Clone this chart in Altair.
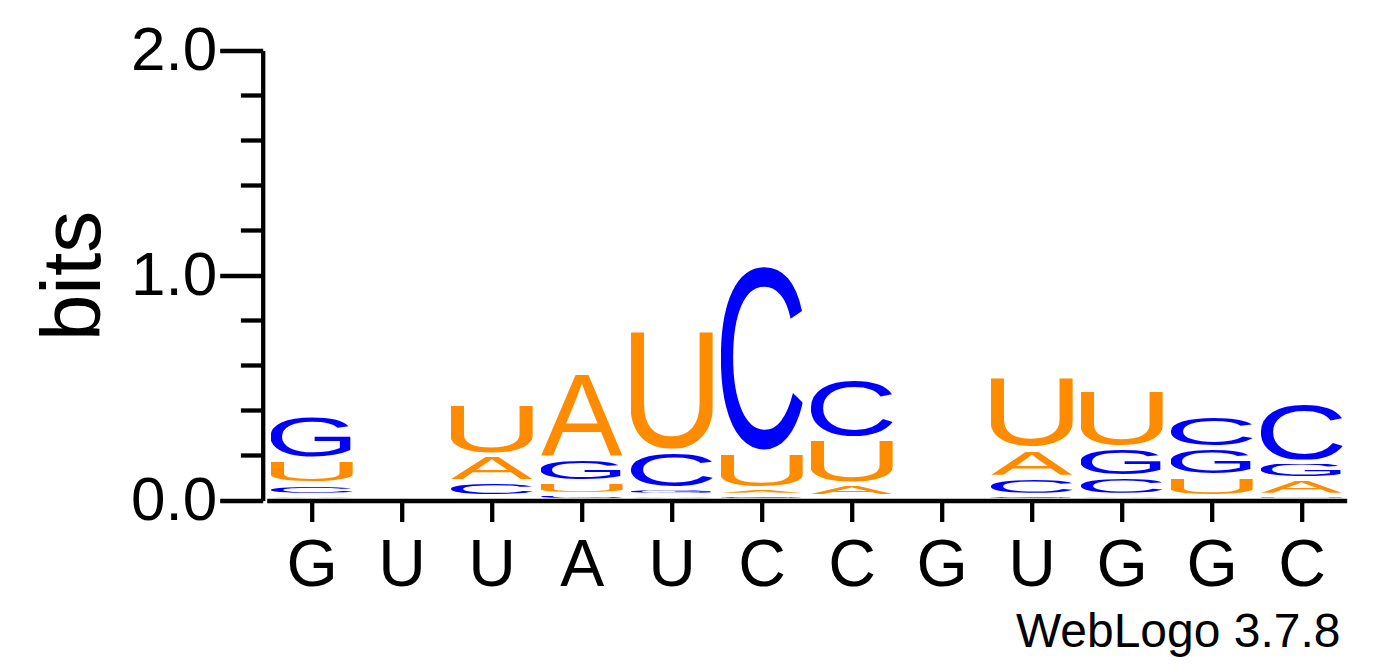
import json
from urllib.parse import quote

import pandas as pd
import altair as alt

# sequence logo data (bits per letter)
positions = list(range(1, 13))
consensus = ["G", "U", "U", "A", "U", "C", "C", "G", "U", "G", "G", "C"]
bits_A = [0.025, 0, 0.118, 0.392, 0.025, 0.03, 0.054, 0, 0.126, 0.025, 0.02, 0.073]
bits_C = [0.05, 0, 0.065, 0.03, 0.167, 0.858, 0.272, 0, 0.08, 0.082, 0.146, 0.272]
bits_G = [0.201, 0, 0.02, 0.102, 0.03, 0.025, 0.02, 0, 0.025, 0.13, 0.124, 0.075]
bits_U = [0.109, 0, 0.233, 0.055, 0.56, 0.16, 0.202, 0, 0.332, 0.262, 0.091, 0.025]
y_major = [0.0, 1.0, 2.0]
y_minor = [0.2, 0.4, 0.6, 0.8, 1.2, 1.4, 1.6, 1.8]
credit = "WebLogo 3.7.8"

FONT = "Liberation Sans"
ORANGE = "#FF8C00"
BLUE = "#0000FF"
colors = {"A": ORANGE, "U": ORANGE, "C": BLUE, "G": BLUE}
# ink boxes of the glyphs (font units * 100 / em): x0, x1, ybottom, ytop
ink = {"A": (-0.15, 66.85, 0.0, 71.6),
       "C": (4.98, 68.26, -1.22, 72.2),
       "G": (5.32, 72.22, -1.22, 72.2),
       "U": (7.86, 64.16, -1.22, 71.6)}


def glyph_url(letter):
    x0, x1, yb, yt = ink[letter]
    w, h = x1 - x0, yt - yb
    svg = (f'<svg xmlns="http://www.w3.org/2000/svg" width="{w:.2f}" height="{h:.2f}" '
           f'viewBox="{x0} {-yt} {w:.2f} {h:.2f}" preserveAspectRatio="none">'
           f'<text x="0" y="0" font-family="{FONT}, Arial, sans-serif" font-size="100" '
           f'fill="{colors[letter]}">{letter}</text></svg>')
    return "data:image/svg+xml;charset=utf-8," + quote(svg)


glyphs = pd.DataFrame({"letter": list("ACGU")})
glyphs["url"] = [glyph_url(l) for l in glyphs["letter"]]

rows = []
for i, p in enumerate(positions):
    for letter, arr in zip("ACGU", [bits_A, bits_C, bits_G, bits_U]):
        if arr[i] > 0:
            rows.append({"pos": p, "letter": letter, "h": arr[i]})
df = pd.DataFrame(rows)

W, H = 1080, 450
label_expr = json.dumps(consensus) + "[datum.value - 1]"

y_scale = alt.Scale(domain=[0, 2], nice=False)
y_axis = alt.Axis(values=y_major, format=".1f", title="bits", grid=False, offset=4,
                  tickSize=43, tickWidth=4.3, domainWidth=4.3,
                  labelFontSize=62, labelPadding=3,
                  titleFontSize=84, titleFontWeight="normal", titleAngle=-90,
                  titleX=-163, titleY=H / 2, titleAlign="center",
                  titleBaseline="alphabetic")

letters = alt.Chart(df).transform_lookup(
    lookup="letter", from_=alt.LookupData(glyphs, "letter", ["url"])
).transform_stack(
    stack="h", groupby=["pos"], as_=["y0", "y1"], sort=[alt.SortField("h", order="ascending")]
).transform_calculate(
    x0="datum.pos - 0.455", x1="datum.pos + 0.455"
).mark_image(aspect=False, yOffset=-2, y2Offset=2).encode(
    x=alt.X("x0:Q", scale=alt.Scale(domain=[0.5, 12.5], nice=False, zero=False),
            axis=alt.Axis(values=positions, labelExpr=label_expr, title=None, grid=False,
                          tickSize=21, tickWidth=4.3, domainWidth=4.3,
                          labelFontSize=66, labelPadding=12)),
    x2="x1:Q",
    y=alt.Y("y0:Q", scale=y_scale, axis=y_axis),
    y2="y1:Q",
    url="url:N",
)

minor = alt.Chart(pd.DataFrame({"v": y_minor})).mark_rule(
    color="black", strokeWidth=4.3
).encode(y=alt.Y("v:Q", scale=y_scale, axis=y_axis), x=alt.value(-25.8), x2=alt.value(-4))

note = alt.Chart(pd.DataFrame({"t": [credit]})).mark_text(
    align="right", baseline="alphabetic", fontSize=48, font=FONT, color="black"
).encode(text="t:N", x=alt.value(1073.8), y=alt.value(596.2))

chart = alt.layer(letters, minor, note).properties(
    width=W, height=H,
    padding={"left": 258.7, "top": 42.5, "right": 37, "bottom": 158},
    autosize="none",
).configure_view(strokeWidth=0).configure_axis(
    labelFont=FONT, titleFont=FONT, labelColor="black", titleColor="black",
    domainColor="black", tickColor="black"
)

chart.save("out.html", embed_options={"renderer": "svg", "actions": False})
